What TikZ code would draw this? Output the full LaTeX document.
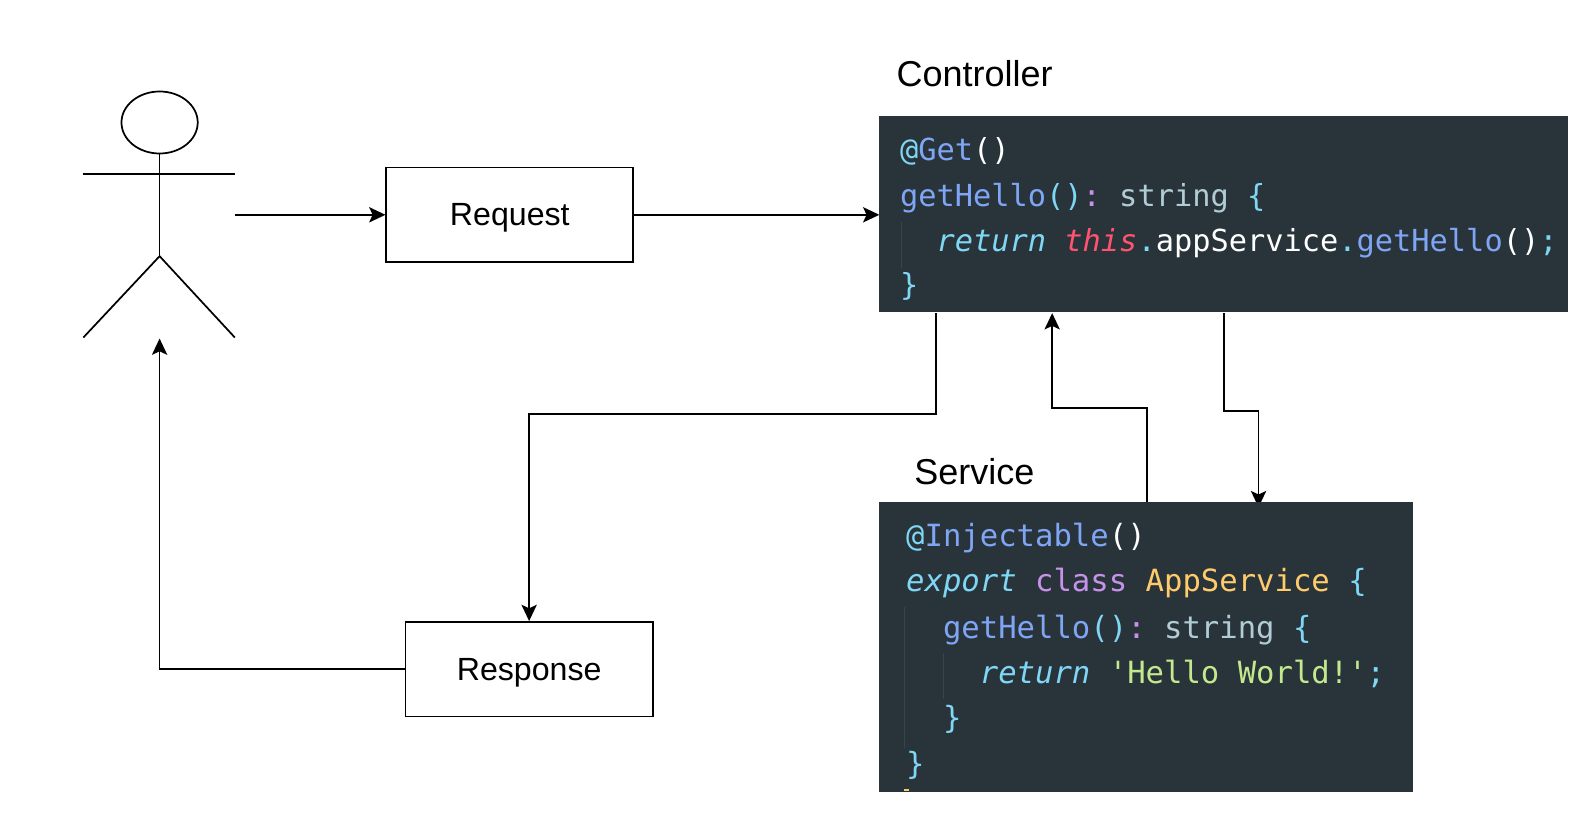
\documentclass[tikz,border=0pt]{standalone}
\usepackage{fontspec}
\setmainfont{Liberation Sans}
\newfontfamily\codefont{DejaVu Sans Mono}
\usetikzlibrary{arrows.meta,positioning,shapes.geometric}
\definecolor{codebg}{HTML}{29333A}
\definecolor{cCyan}{HTML}{7FD6F5}
\definecolor{cBlue}{HTML}{7FA5F5}
\definecolor{cPurple}{HTML}{C792EA}
\definecolor{cYellow}{HTML}{FFCB6B}
\definecolor{cGreen}{HTML}{C3E88D}
\definecolor{cRed}{HTML}{FF5370}
\definecolor{cGrey}{HTML}{B2CCD6}
\definecolor{cGuide}{HTML}{37444C}
\newcommand{\slanted}[2]{\textcolor{#1}{\itshape #2}}
\newcommand{\tightsp}{\hspace{-3pt}}
\tikzset{
  x=0.5pt,y=-0.5pt,
  flow/.style={draw=black,line width=0.85pt,-{Stealth[length=8pt,width=7.5pt,inset=1.7pt]}},
  actorline/.style={draw=black,line width=0.85pt},
  plainbox/.style={draw=black,line width=0.85pt,fill=white,minimum width=121.5pt,minimum height=46.5pt,inner sep=0pt,text height=11pt,text depth=0pt,font=\fontsize{15.8pt}{18pt}\selectfont},
  codebox/.style={fill=codebg,anchor=north west,inner sep=0pt},
  codeline/.style={anchor=base west,inner sep=0pt,text=white,font=\codefont\fontsize{14.92pt}{18pt}\selectfont},
  codelineB/.style={codeline,font=\codefont\fontsize{15.05pt}{18pt}\selectfont},
  title/.style={anchor=base west,inner sep=0pt,font=\fontsize{17.7pt}{20pt}\selectfont},
  guide/.style={draw=cGuide,line width=0.5pt},
}
\begin{document}
\begin{tikzpicture}
\useasboundingbox (0,0) rectangle (1568,818);
% actor
\node[draw=black,line width=0.85pt,ellipse,minimum width=37.5pt,minimum height=30.5pt,inner sep=0pt] (head) at (157,120.5) {};
\coordinate (hip) at (157,252);
\coordinate (armL) at (82,171);
\coordinate (armR) at (231,171);
\coordinate (footL) at (82,332);
\coordinate (footR) at (231,332);
\coordinate (actorOut) at (231,211.3);
\coordinate (actorIn) at (157,333);
\draw[actorline] (head.south) -- (hip);
\draw[actorline] (armL) -- (armR);
\draw[actorline] (footL) -- (hip) -- (footR);
% boxes
\node[plainbox] (request) at (501.5,211.3) {Request};
\node[plainbox] (response) at (520.5,658.3) {Response};
% anchors on the code panels
\coordinate (ctrlIn) at (865,211.3);
\coordinate (ctrlOutA) at (921,308);
\coordinate (ctrlBack) at (1035,308);
\coordinate (ctrlOutB) at (1204,308);
\coordinate (servOut) at (1128,494);
\coordinate (servIn) at (1238,499);
% connectors
\draw[flow] (actorOut) -- (request.west);
\draw[flow] (request.east) -- (ctrlIn);
\draw[flow] (ctrlOutA) -- (921,407) -- (520.5,407) -- (response.north);
\draw[flow] (servOut) -- (1128,401) -- (1035,401) -- (ctrlBack);
\draw[flow] (ctrlOutB) -- (1204,404) -- (1238,404) -- (servIn);
\draw[flow] (response.west) -- (157,658.3) -- (actorIn);
% controller panel
\node[codebox,minimum width=338.75pt,minimum height=96.5pt] (ctrl) at (864.5,114) {};
\node[title] (ctrlTitle) at (881.5,85) {Controller};
\draw[guide] (887,218) -- (887,264);
\node[codeline] (c1) at (885,158) {\textcolor{cCyan}{@}\textcolor{cBlue}{Get}()};
\node[codeline] (c2) at (885,203) {\textcolor{cBlue}{getHello}\textcolor{cCyan}{()}\textcolor{cPurple}{:} \tightsp\textcolor{cGrey}{string} \textcolor{cCyan}{\{}};
\node[codeline] (c3) at (885,247) {\phantom{xx}\slanted{cCyan}{return} \slanted{cRed}{this}\textcolor{cCyan}{.}appService\textcolor{cCyan}{.}\textcolor{cBlue}{getHello}\textcolor{white}{()}\textcolor{cCyan}{;}};
\node[codeline] (c4) at (885,291) {\textcolor{cCyan}{\}}};
% service panel
\node[codebox,minimum width=262.75pt,minimum height=142.5pt] (serv) at (864.5,493.5) {};
\node[title] (servTitle) at (899,476.5) {Service};
\fill[cYellow] (889.5,776.5) rectangle (894,778);
\draw[guide] (890,597) -- (890,736);
\draw[guide] (928,642) -- (928,688);
\node[codelineB] (s1) at (891,538) {\textcolor{cCyan}{@}\textcolor{cBlue}{Injectable}()};
\node[codelineB] (s2) at (891,582) {\slanted{cCyan}{export} \textcolor{cPurple}{class} \textcolor{cYellow}{AppService} \textcolor{cCyan}{\{}};
\node[codelineB] (s3) at (891,628) {\phantom{xx}\textcolor{cBlue}{getHello}\textcolor{cCyan}{()}\textcolor{cPurple}{:} \tightsp\textcolor{cGrey}{string} \textcolor{cCyan}{\{}};
\node[codelineB] (s4) at (891,672) {\phantom{xxxx}\slanted{cCyan}{return} \textcolor{cGreen}{'Hello World!'}\textcolor{cCyan}{;}};
\node[codelineB] (s5) at (891,717) {\phantom{xx}\textcolor{cCyan}{\}}};
\node[codelineB] (s6) at (891,762) {\textcolor{cCyan}{\}}};
\end{tikzpicture}
\end{document}
